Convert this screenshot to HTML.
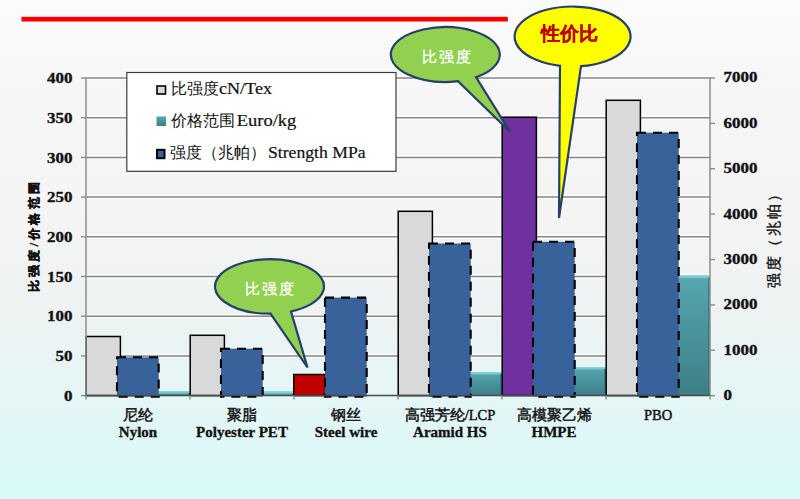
<!DOCTYPE html>
<html><head><meta charset="utf-8"><style>
html,body{margin:0;padding:0;width:800px;height:499px;overflow:hidden;background:#f5f5f5}
svg{display:block}
text{font-family:"Liberation Serif",serif}
.num{font-weight:bold;font-size:15px;fill:#111;stroke:#111;stroke-width:0.35px}
.cat{font-weight:bold;font-size:15px;fill:#111;stroke:#111;stroke-width:0.3px}
.catc{font-size:14.5px;fill:#111;stroke:#111;stroke-width:0.45px}
.leg{font-size:16px;fill:#111}
.legl{font-size:17px;fill:#111;stroke:#111;stroke-width:0.2px}
.ytl{font-weight:bold;font-size:12px;fill:#111;stroke:#111;stroke-width:0.4px;letter-spacing:3.2px}
.ytr{font-size:15px;fill:#111;stroke:#111;stroke-width:0.35px;letter-spacing:2.2px}
.cw{font-size:15px;fill:#fff;stroke:#fff;stroke-width:0.3px;letter-spacing:2px}
.cr{font-family:"Liberation Sans",sans-serif;font-weight:bold;font-size:19px;fill:#c00000;stroke:#c00000;stroke-width:0.15px}
</style></head><body>
<svg width="800" height="499" viewBox="0 0 800 499">
<defs><linearGradient id="bg" x1="0" y1="0" x2="0" y2="1"><stop offset="0" stop-color="#fbfbfb"/><stop offset="0.2" stop-color="#f6f6f6"/><stop offset="0.45" stop-color="#f4f4f4"/><stop offset="0.62" stop-color="#eef2f2"/><stop offset="0.75" stop-color="#e7f5f5"/><stop offset="0.87" stop-color="#e0f7f7"/><stop offset="1" stop-color="#d8f9f9"/></linearGradient><linearGradient id="cy" x1="0" y1="0" x2="0" y2="1"><stop offset="0" stop-color="#56a6b0"/><stop offset="1" stop-color="#3d7f86"/></linearGradient><linearGradient id="cyt" x1="0" y1="0" x2="0" y2="1"><stop offset="0" stop-color="#8fdbe6"/><stop offset="1" stop-color="#5fb3be"/></linearGradient></defs>
<rect x="0" y="0" width="800" height="499" fill="url(#bg)"/>
<rect x="21.5" y="16.8" width="486.3" height="4.7" fill="#f80000"/>
<line x1="86" y1="354.3" x2="710" y2="354.3" stroke="#ffffff" stroke-width="1.2" opacity="0.9"/>
<line x1="86" y1="357.5" x2="710" y2="357.5" stroke="#ffffff" stroke-width="1.2" opacity="0.9"/>
<line x1="86" y1="355.9" x2="710" y2="355.9" stroke="#8a8a8a" stroke-width="1.5"/>
<line x1="86" y1="314.6" x2="710" y2="314.6" stroke="#ffffff" stroke-width="1.2" opacity="0.9"/>
<line x1="86" y1="317.8" x2="710" y2="317.8" stroke="#ffffff" stroke-width="1.2" opacity="0.9"/>
<line x1="86" y1="316.2" x2="710" y2="316.2" stroke="#8a8a8a" stroke-width="1.5"/>
<line x1="86" y1="274.9" x2="710" y2="274.9" stroke="#ffffff" stroke-width="1.2" opacity="0.9"/>
<line x1="86" y1="278.1" x2="710" y2="278.1" stroke="#ffffff" stroke-width="1.2" opacity="0.9"/>
<line x1="86" y1="276.5" x2="710" y2="276.5" stroke="#8a8a8a" stroke-width="1.5"/>
<line x1="86" y1="235.2" x2="710" y2="235.2" stroke="#ffffff" stroke-width="1.2" opacity="0.9"/>
<line x1="86" y1="238.4" x2="710" y2="238.4" stroke="#ffffff" stroke-width="1.2" opacity="0.9"/>
<line x1="86" y1="236.8" x2="710" y2="236.8" stroke="#8a8a8a" stroke-width="1.5"/>
<line x1="86" y1="195.5" x2="710" y2="195.5" stroke="#ffffff" stroke-width="1.2" opacity="0.9"/>
<line x1="86" y1="198.7" x2="710" y2="198.7" stroke="#ffffff" stroke-width="1.2" opacity="0.9"/>
<line x1="86" y1="197.1" x2="710" y2="197.1" stroke="#8a8a8a" stroke-width="1.5"/>
<line x1="86" y1="155.8" x2="710" y2="155.8" stroke="#ffffff" stroke-width="1.2" opacity="0.9"/>
<line x1="86" y1="159.0" x2="710" y2="159.0" stroke="#ffffff" stroke-width="1.2" opacity="0.9"/>
<line x1="86" y1="157.4" x2="710" y2="157.4" stroke="#8a8a8a" stroke-width="1.5"/>
<line x1="86" y1="116.1" x2="710" y2="116.1" stroke="#ffffff" stroke-width="1.2" opacity="0.9"/>
<line x1="86" y1="119.3" x2="710" y2="119.3" stroke="#ffffff" stroke-width="1.2" opacity="0.9"/>
<line x1="86" y1="117.7" x2="710" y2="117.7" stroke="#8a8a8a" stroke-width="1.5"/>
<line x1="86" y1="76.4" x2="710" y2="76.4" stroke="#ffffff" stroke-width="1.2" opacity="0.9"/>
<line x1="86" y1="79.6" x2="710" y2="79.6" stroke="#ffffff" stroke-width="1.2" opacity="0.9"/>
<line x1="86" y1="78.0" x2="710" y2="78.0" stroke="#8a8a8a" stroke-width="1.5"/>
<line x1="81" y1="395.6" x2="86" y2="395.6" stroke="#8c8c8c" stroke-width="1.4"/>
<line x1="81" y1="355.9" x2="86" y2="355.9" stroke="#8c8c8c" stroke-width="1.4"/>
<line x1="81" y1="316.2" x2="86" y2="316.2" stroke="#8c8c8c" stroke-width="1.4"/>
<line x1="81" y1="276.5" x2="86" y2="276.5" stroke="#8c8c8c" stroke-width="1.4"/>
<line x1="81" y1="236.8" x2="86" y2="236.8" stroke="#8c8c8c" stroke-width="1.4"/>
<line x1="81" y1="197.1" x2="86" y2="197.1" stroke="#8c8c8c" stroke-width="1.4"/>
<line x1="81" y1="157.4" x2="86" y2="157.4" stroke="#8c8c8c" stroke-width="1.4"/>
<line x1="81" y1="117.7" x2="86" y2="117.7" stroke="#8c8c8c" stroke-width="1.4"/>
<line x1="81" y1="78.0" x2="86" y2="78.0" stroke="#8c8c8c" stroke-width="1.4"/>
<line x1="710" y1="395.6" x2="715" y2="395.6" stroke="#8c8c8c" stroke-width="1.4"/>
<line x1="710" y1="350.2" x2="715" y2="350.2" stroke="#8c8c8c" stroke-width="1.4"/>
<line x1="710" y1="304.9" x2="715" y2="304.9" stroke="#8c8c8c" stroke-width="1.4"/>
<line x1="710" y1="259.5" x2="715" y2="259.5" stroke="#8c8c8c" stroke-width="1.4"/>
<line x1="710" y1="214.1" x2="715" y2="214.1" stroke="#8c8c8c" stroke-width="1.4"/>
<line x1="710" y1="168.7" x2="715" y2="168.7" stroke="#8c8c8c" stroke-width="1.4"/>
<line x1="710" y1="123.4" x2="715" y2="123.4" stroke="#8c8c8c" stroke-width="1.4"/>
<line x1="710" y1="78.0" x2="715" y2="78.0" stroke="#8c8c8c" stroke-width="1.4"/>
<rect x="155" y="391" width="35" height="4.600000000000023" fill="url(#cy)"/>
<rect x="155" y="391" width="35" height="3" fill="url(#cyt)"/>
<rect x="188" y="393" width="2" height="2.6000000000000227" fill="#3b757b" opacity="0.8"/>
<rect x="259" y="391.5" width="35" height="4.100000000000023" fill="url(#cy)"/>
<rect x="259" y="391.5" width="35" height="3" fill="url(#cyt)"/>
<rect x="292" y="393.5" width="2" height="2.1000000000000227" fill="#3b757b" opacity="0.8"/>
<rect x="467" y="372" width="35" height="23.600000000000023" fill="url(#cy)"/>
<rect x="467" y="372" width="35" height="3" fill="url(#cyt)"/>
<rect x="500" y="374" width="2" height="21.600000000000023" fill="#3b757b" opacity="0.8"/>
<rect x="571" y="367" width="35" height="28.600000000000023" fill="url(#cy)"/>
<rect x="571" y="367" width="35" height="3" fill="url(#cyt)"/>
<rect x="604" y="369" width="2" height="26.600000000000023" fill="#3b757b" opacity="0.8"/>
<rect x="675" y="275.6" width="35" height="120.0" fill="url(#cy)"/>
<rect x="675" y="275.6" width="35" height="3" fill="url(#cyt)"/>
<rect x="708" y="277.6" width="2" height="118.0" fill="#3b757b" opacity="0.8"/>
<rect x="86.2" y="336.5" width="34.2" height="59.10000000000001" fill="#d9d9d9" stroke="#000" stroke-width="1.5"/>
<rect x="190.2" y="335.3" width="34.2" height="60.3" fill="#d9d9d9" stroke="#000" stroke-width="1.5"/>
<rect x="293.8" y="374.5" width="31.6" height="21.100000000000012" fill="#c00000" stroke="#000" stroke-width="1.5"/>
<rect x="398.2" y="211.29999999999998" width="34.2" height="184.30000000000004" fill="#d9d9d9" stroke="#000" stroke-width="1.5"/>
<rect x="502.2" y="117.2" width="34.2" height="278.40000000000003" fill="#7030a0" stroke="#000" stroke-width="1.5"/>
<rect x="606.2" y="100.3" width="34.2" height="295.3" fill="#d9d9d9" stroke="#000" stroke-width="1.5"/>
<rect x="117" y="357.3" width="41.7" height="39.30000000000001" fill="#3a629a" stroke="#000" stroke-width="2.1" stroke-dasharray="9 7"/>
<rect x="221" y="348.7" width="41.7" height="47.900000000000034" fill="#3a629a" stroke="#000" stroke-width="2.1" stroke-dasharray="9 7"/>
<rect x="325" y="297.6" width="41.7" height="99.0" fill="#3a629a" stroke="#000" stroke-width="2.1" stroke-dasharray="9 7"/>
<rect x="429" y="243.5" width="41.7" height="153.10000000000002" fill="#3a629a" stroke="#000" stroke-width="2.1" stroke-dasharray="9 7"/>
<rect x="533" y="241.8" width="41.7" height="154.8" fill="#3a629a" stroke="#000" stroke-width="2.1" stroke-dasharray="9 7"/>
<rect x="637" y="132.7" width="41.7" height="263.90000000000003" fill="#3a629a" stroke="#000" stroke-width="2.1" stroke-dasharray="9 7"/>
<line x1="86" y1="78" x2="86" y2="395.6" stroke="#8c8c8c" stroke-width="1.5"/>
<line x1="710" y1="78" x2="710" y2="395.6" stroke="#8c8c8c" stroke-width="1.5"/>
<line x1="86" y1="395.6" x2="710" y2="395.6" stroke="#4a4a4a" stroke-width="1.5"/>
<line x1="86" y1="395.6" x2="86" y2="399.5" stroke="#8c8c8c" stroke-width="1.4"/>
<line x1="190" y1="395.6" x2="190" y2="399.5" stroke="#8c8c8c" stroke-width="1.4"/>
<line x1="294" y1="395.6" x2="294" y2="399.5" stroke="#8c8c8c" stroke-width="1.4"/>
<line x1="398" y1="395.6" x2="398" y2="399.5" stroke="#8c8c8c" stroke-width="1.4"/>
<line x1="502" y1="395.6" x2="502" y2="399.5" stroke="#8c8c8c" stroke-width="1.4"/>
<line x1="606" y1="395.6" x2="606" y2="399.5" stroke="#8c8c8c" stroke-width="1.4"/>
<line x1="710" y1="395.6" x2="710" y2="399.5" stroke="#8c8c8c" stroke-width="1.4"/>
<text transform="translate(72.5,400.8) scale(1.13,1)" text-anchor="end" class="num">0</text>
<text transform="translate(72.5,361.1) scale(1.13,1)" text-anchor="end" class="num">50</text>
<text transform="translate(72.5,321.4) scale(1.13,1)" text-anchor="end" class="num">100</text>
<text transform="translate(72.5,281.7) scale(1.13,1)" text-anchor="end" class="num">150</text>
<text transform="translate(72.5,242.0) scale(1.13,1)" text-anchor="end" class="num">200</text>
<text transform="translate(72.5,202.3) scale(1.13,1)" text-anchor="end" class="num">250</text>
<text transform="translate(72.5,162.6) scale(1.13,1)" text-anchor="end" class="num">300</text>
<text transform="translate(72.5,122.9) scale(1.13,1)" text-anchor="end" class="num">350</text>
<text transform="translate(72.5,83.2) scale(1.13,1)" text-anchor="end" class="num">400</text>
<text transform="translate(723.6,400.0) scale(1.13,1)" class="num">0</text>
<text transform="translate(723.6,354.6) scale(1.13,1)" class="num">1000</text>
<text transform="translate(723.6,309.3) scale(1.13,1)" class="num">2000</text>
<text transform="translate(723.6,263.9) scale(1.13,1)" class="num">3000</text>
<text transform="translate(723.6,218.5) scale(1.13,1)" class="num">4000</text>
<text transform="translate(723.6,173.1) scale(1.13,1)" class="num">5000</text>
<text transform="translate(723.6,127.8) scale(1.13,1)" class="num">6000</text>
<text transform="translate(723.6,82.4) scale(1.13,1)" class="num">7000</text>
<text transform="translate(37.8,235.5) rotate(-90)" text-anchor="middle" class="ytl">比强度/价格范围</text>
<text transform="translate(778.6,236.5) rotate(-90)" text-anchor="middle" class="ytr">强度（兆帕）</text>
<text x="138" y="420" text-anchor="middle" class="catc">尼纶</text>
<text x="138" y="437.4" text-anchor="middle" class="cat">Nylon</text>
<text x="242" y="420" text-anchor="middle" class="catc">聚脂</text>
<text x="242" y="437.4" text-anchor="middle" class="cat">Polyester PET</text>
<text x="346" y="420" text-anchor="middle" class="catc">钢丝</text>
<text x="346" y="437.4" text-anchor="middle" class="cat">Steel wire</text>
<text x="450" y="420" text-anchor="middle" class="catc">高强芳纶/LCP</text>
<text x="450" y="437.4" text-anchor="middle" class="cat">Aramid HS</text>
<text x="554" y="420" text-anchor="middle" class="catc">高模聚乙烯</text>
<text x="554" y="437.4" text-anchor="middle" class="cat">HMPE</text>
<text x="658" y="420" text-anchor="middle" class="catc">PBO</text>
<rect x="126.8" y="72.5" width="269.2" height="98.8" fill="#ffffff" stroke="#3c3c3c" stroke-width="1.2"/>
<rect x="157" y="86" width="8.5" height="8" fill="#d9d9d9" stroke="#000" stroke-width="1.6"/>
<rect x="156.5" y="116.5" width="9.5" height="9.5" fill="url(#cy)"/>
<rect x="157" y="149.8" width="7.5" height="8.4" fill="#3a629a" stroke="#000" stroke-width="2"/>
<text x="171" y="93.8" class="leg">比强度</text>
<text x="219" y="93.8" class="legl" textLength="53" lengthAdjust="spacingAndGlyphs">cN/Tex</text>
<text x="171" y="125.6" class="leg">价格范围</text>
<text x="236.8" y="125.6" class="legl" textLength="59.5" lengthAdjust="spacingAndGlyphs">Euro/kg</text>
<text x="170" y="157.6" class="leg">强度（兆帕）</text>
<text x="268" y="157.6" class="legl" textLength="97.6" lengthAdjust="spacingAndGlyphs">Strength MPa</text>
<path d="M476.0,77.2 A54.5,27.4 0 1 0 458.0,81.2 L510,131.8 Z" fill="#92d050" stroke="#263f6b" stroke-width="2.2" stroke-linejoin="miter"/>
<path d="M581.0,66.2 A58,30 0 1 0 560.0,65.8 L559,218 Z" fill="#ffff00" stroke="#263f6b" stroke-width="2.2" stroke-linejoin="miter"/>
<path d="M291.0,311.5 A54.5,27.2 0 1 0 270.5,313.7 L307.5,367.5 Z" fill="#92d050" stroke="#263f6b" stroke-width="2.2" stroke-linejoin="miter"/>
<text x="447.5" y="62.3" text-anchor="middle" class="cw">比强度</text>
<text x="270" y="293.5" text-anchor="middle" class="cw">比强度</text>
<text x="569.8" y="40" text-anchor="middle" class="cr">性价比</text>
</svg>
</body></html>
